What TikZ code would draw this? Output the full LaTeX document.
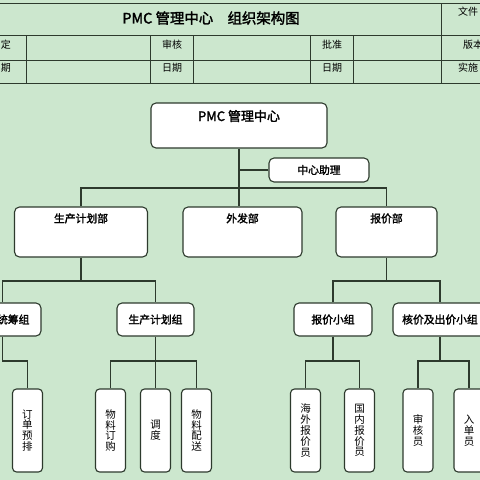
\documentclass[tikz,border=0pt]{standalone}
\usepackage{fontspec}
\newfontfamily\cjk[AutoFakeBold=2]{Noto Sans CJK SC}
\usetikzlibrary{positioning}
\definecolor{bggreen}{RGB}{204,231,206}
\definecolor{linegray}{RGB}{45,58,45}
\tikzstyle{line} = [draw=linegray, line width=1.1pt]
\tikzstyle{tline} = [draw=linegray, line width=1pt]
\tikzstyle{headtext} = [font=\cjk\fontsize{10}{11}\selectfont, inner sep=0pt]
\tikzstyle{bigblock} = [draw=linegray, line width=1.1pt, fill=white, rectangle,
    rounded corners=5pt, inner sep=0pt, minimum width=176pt, text height=18pt, text depth=27pt,
    font=\cjk\bfseries\fontsize{13}{14}\selectfont]
\tikzstyle{block} = [draw=linegray, line width=1.1pt, fill=white, rectangle,
    rounded corners=5pt, inner sep=0pt, text height=15.5pt, text depth=34.5pt,
    font=\cjk\bfseries\fontsize{10.8}{12}\selectfont]
\tikzstyle{groupblock} = [draw=linegray, line width=1.1pt, fill=white, rectangle,
    rounded corners=5pt, inner sep=0pt, minimum height=33pt,
    font=\cjk\bfseries\fontsize{10.8}{12}\selectfont]
\tikzstyle{vblock} = [draw=linegray, line width=1.1pt, fill=white, rectangle,
    rounded corners=4pt, inner sep=0pt, minimum width=30pt, minimum height=83pt,
    align=center, font=\cjk\fontsize{10.5}{10.8}\selectfont]

\begin{document}
\begin{tikzpicture}[x=1pt, y=-1pt]
     \useasboundingbox (0,0) rectangle (480,480);
     \clip (0,0) rectangle (480,480);
     \fill [bggreen] (0,0) rectangle (480,480);

     % header table
     \foreach \y in {3,35,60,83} \draw [tline] (0,\y) -- (480,\y);
     \draw [tline] (441,3) -- (441,83);
     \foreach \x in {26,150,193,310,353} \draw [tline] (\x,35) -- (\x,83);
     \node [font=\cjk\bfseries\fontsize{14.4}{16}\selectfont, inner sep=0pt] (title) at (211,18) {PMC 管理中心　组织架构图};
     \node [headtext, anchor=east] (drafted) at (11,45) {定};
     \node [headtext, anchor=east] (drafteddate) at (11,68) {期};
     \node [headtext] (checked) at (172,45) {审核};
     \node [headtext] (checkeddate) at (172,68) {日期};
     \node [headtext] (approved) at (332,45) {批准};
     \node [headtext] (approveddate) at (332,68) {日期};
     \node [headtext, anchor=west] (fileno) at (458,12) {文件};
     \node [headtext, anchor=west] (version) at (463,45) {版本};
     \node [headtext, anchor=west] (effective) at (458,68) {实施};

     % centre and departments
     \node [bigblock] (pmc) at (239,125.5) {PMC 管理中心};
     \node [groupblock, minimum width=100pt, minimum height=24pt] (assist) at (319,170) {中心助理};
     \node [block, minimum width=133pt] (dplan) at (81,232) {生产计划部};
     \node [block, minimum width=119pt] (dout) at (242.5,232) {外发部};
     \node [block, minimum width=101pt] (dquote) at (386.5,232) {报价部};
     \coordinate (topbus) at (239,188);
     \draw [line] (pmc.south) -- (dout.north -| pmc.south);
     \draw [line] (assist.west) -- (assist.west -| pmc.south);
     \draw [line] (dplan.north) |- (topbus) -| (dquote.north);

     % groups
     \node [groupblock, minimum width=77pt] (gcoord) at (2.5,319.5) {订单统筹组};
     \node [groupblock, minimum width=77pt] (gplan) at (155.5,319.5) {生产计划组};
     \node [groupblock, minimum width=78pt] (gquote) at (333,319.5) {报价小组};
     \node [groupblock, minimum width=94pt] (gcheck) at (440,319.5) {核价及出价小组};
     \coordinate (planbus) at (81,281);
     \coordinate (quotebus) at (386.5,281);
     \draw [line] (dplan.south) -- (planbus);
     \draw [line] (gcoord.north) |- (planbus) -| (gplan.north);
     \draw [line] (dquote.south) -- (quotebus);
     \draw [line] (gquote.north) |- (quotebus) -| (gcheck.north);

     % posts
     \node [vblock] (c1) at (27.5,430.5) {订\\单\\预\\排};
     \node [vblock] (c2) at (110.5,430.5) {物\\料\\订\\购};
     \node [vblock] (c3) at (155.5,430.5) {调\\度};
     \node [vblock] (c4) at (196.5,430.5) {物\\料\\配\\送};
     \node [vblock] (c5) at (305.5,430.5) {海\\外\\报\\价\\员};
     \node [vblock] (c6) at (359.5,430.5) {国\\内\\报\\价\\员};
     \node [vblock] (c7) at (418,430.5) {审\\核\\员};
     \node [vblock] (c8) at (469,430.5) {入\\单\\员};
     \coordinate (coordbus) at (2.5,361);
     \coordinate (gplanbus) at (155.5,361);
     \coordinate (gquotebus) at (333,361);
     \coordinate (gcheckbus) at (440,361);
     \draw [line] (gcoord.south) -- (coordbus) -| (c1.north);
     \draw [line] (gplan.south) -- (c3.north);
     \draw [line] (c2.north) |- (gplanbus) -| (c4.north);
     \draw [line] (gquote.south) -- (gquotebus);
     \draw [line] (c5.north) |- (gquotebus) -| (c6.north);
     \draw [line] (gcheck.south) -- (gcheckbus);
     \draw [line] (c7.north) |- (gcheckbus) -| (c8.north);
\end{tikzpicture}
\end{document}
